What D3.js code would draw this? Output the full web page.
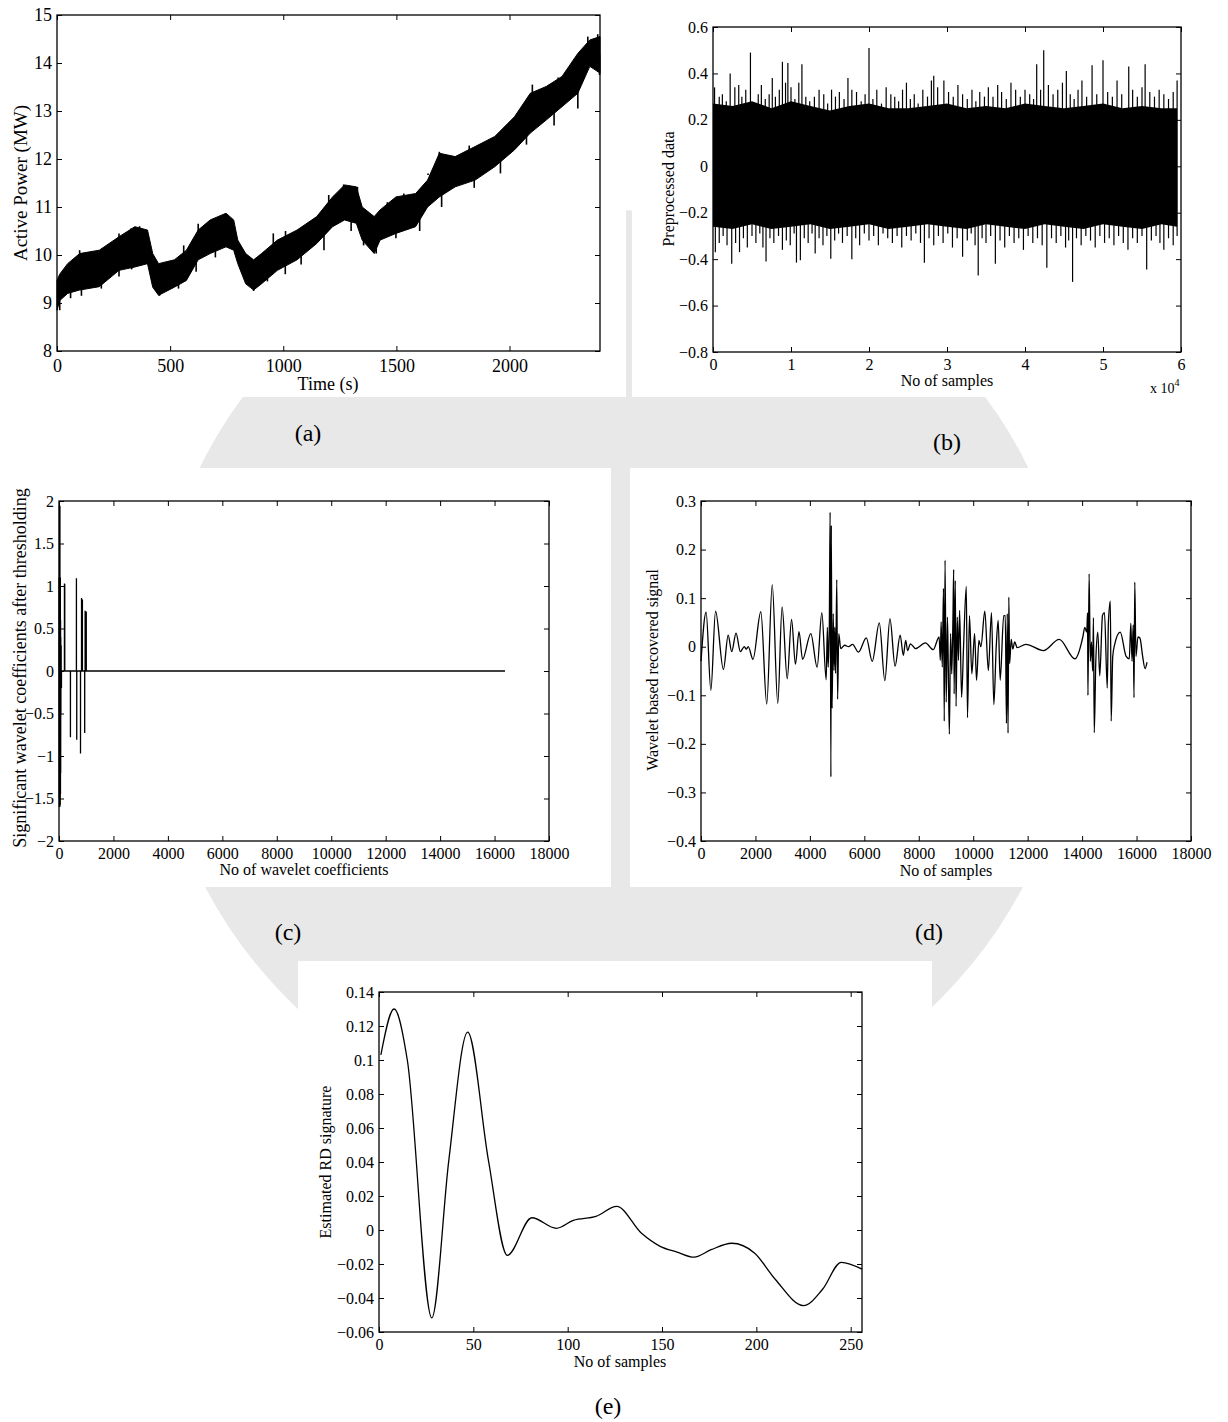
<!DOCTYPE html>
<html>
<head>
<meta charset="utf-8">
<script src="https://cdn.jsdelivr.net/npm/d3@7"></script>
<style>
body { margin: 0; background: #fff; }
svg text { font-family: "Liberation Serif", "Times New Roman", serif; fill: #000; }
</style>
</head>
<body>
<svg id="fig" width="1228" height="1422"></svg>
<script>
// (a) active power band (upper / lower edge of the black trace)
var powerT  = [0, 12, 47, 100, 187, 274, 344, 400, 423, 449, 519, 572, 624, 677, 747, 781, 799, 834, 869, 904, 974, 1061, 1148, 1218, 1271, 1323, 1349, 1402, 1428, 1498, 1585, 1638, 1690, 1760, 1848, 1935, 2022, 2092, 2162, 2232, 2302, 2355, 2400];
var powerHi = [9.47, 9.6, 9.82, 10.03, 10.1, 10.38, 10.59, 10.52, 10.03, 9.82, 9.9, 10.1, 10.52, 10.73, 10.87, 10.73, 10.31, 10.03, 9.9, 10.03, 10.31, 10.52, 10.8, 11.21, 11.46, 11.42, 11.0, 10.8, 10.94, 11.21, 11.28, 11.56, 12.12, 12.05, 12.26, 12.47, 12.88, 13.37, 13.51, 13.72, 14.2, 14.48, 14.55];
var powerLo = [8.85, 9.05, 9.2, 9.27, 9.34, 9.68, 9.75, 9.82, 9.33, 9.16, 9.33, 9.47, 9.9, 10.03, 10.17, 10.1, 9.82, 9.4, 9.27, 9.4, 9.68, 9.9, 10.24, 10.59, 10.73, 10.66, 10.31, 10.03, 10.31, 10.45, 10.59, 11.0, 11.21, 11.42, 11.56, 11.84, 12.19, 12.54, 12.81, 13.09, 13.37, 13.93, 13.79];
// single peaks standing out of the band
var powerUpT = [100, 150, 201, 240, 274, 327, 365, 560, 624, 703, 746, 956, 1010, 1079, 1201, 1267, 1328, 1460, 1533, 1640, 1690, 1822, 1900, 1970, 2040, 2101, 2215, 2290, 2346, 2390];
var powerUpV = [10.1, 10.05, 10.13, 10.2, 10.45, 10.55, 10.6, 10.2, 10.65, 10.75, 10.85, 10.45, 10.5, 10.55, 11.25, 11.47, 11.42, 11.1, 11.28, 11.7, 12.15, 12.28, 12.35, 12.55, 12.8, 13.55, 13.7, 14.05, 14.55, 14.6];
var powerDnT = [12, 60, 108, 196, 274, 330, 453, 537, 615, 700, 869, 930, 1009, 1079, 1180, 1300, 1355, 1411, 1498, 1603, 1700, 1844, 1960, 2075, 2197, 2302, 2398];
var powerDnV = [8.85, 9.1, 9.15, 9.3, 9.55, 9.7, 9.15, 9.3, 9.65, 9.95, 9.25, 9.45, 9.6, 9.8, 10.1, 10.5, 10.2, 10.03, 10.35, 10.5, 11.0, 11.4, 11.7, 12.3, 12.7, 13.05, 13.75];

// (b) preprocessed data: dense core + visible spikes (x in units of 10^4 samples)
var coreX  = [0, 0.25, 0.5, 0.75, 1, 1.25, 1.5, 1.75, 2, 2.25, 2.5, 2.75, 3, 3.25, 3.5, 3.75, 4, 4.25, 4.5, 4.75, 5, 5.25, 5.5, 5.75, 5.95];
var coreHi = [0.27, 0.26, 0.28, 0.25, 0.28, 0.26, 0.24, 0.26, 0.27, 0.25, 0.25, 0.26, 0.27, 0.25, 0.26, 0.25, 0.27, 0.26, 0.25, 0.26, 0.27, 0.25, 0.26, 0.25, 0.25];
var coreLo = [-0.26, -0.27, -0.25, -0.27, -0.26, -0.25, -0.27, -0.26, -0.25, -0.27, -0.26, -0.25, -0.26, -0.27, -0.25, -0.26, -0.27, -0.25, -0.26, -0.27, -0.25, -0.26, -0.27, -0.25, -0.26];
var upX = [0.02, 0.08, 0.12, 0.17, 0.22, 0.28, 0.33, 0.37, 0.42, 0.48, 0.53, 0.58, 0.62, 0.67, 0.72, 0.76, 0.80, 0.85, 0.89, 0.93, 0.96, 1.0, 1.05, 1.10, 1.14, 1.19, 1.24, 1.30, 1.36, 1.42, 1.47, 1.52, 1.57, 1.62, 1.68, 1.73, 1.78, 1.84, 1.90, 1.95, 2.00, 2.05, 2.10, 2.16, 2.22, 2.28, 2.33, 2.38, 2.43, 2.48, 2.53, 2.58, 2.63, 2.69, 2.75, 2.80, 2.83, 2.88, 2.96, 3.02, 3.08, 3.14, 3.20, 3.26, 3.32, 3.37, 3.42, 3.48, 3.53, 3.59, 3.65, 3.70, 3.76, 3.82, 3.88, 3.94, 4.00, 4.06, 4.11, 4.15, 4.20, 4.24, 4.30, 4.36, 4.42, 4.48, 4.53, 4.58, 4.63, 4.68, 4.73, 4.79, 4.86, 4.92, 5.0, 5.06, 5.12, 5.18, 5.24, 5.33, 5.38, 5.44, 5.50, 5.54, 5.60, 5.66, 5.72, 5.78, 5.84, 5.90, 5.95];
var upV = [0.34, 0.30, 0.31, 0.28, 0.40, 0.34, 0.35, 0.30, 0.33, 0.49, 0.27, 0.31, 0.35, 0.29, 0.31, 0.38, 0.30, 0.33, 0.45, 0.36, 0.445, 0.34, 0.29, 0.36, 0.44, 0.30, 0.28, 0.30, 0.33, 0.31, 0.27, 0.33, 0.30, 0.32, 0.29, 0.38, 0.33, 0.32, 0.28, 0.31, 0.51, 0.29, 0.33, 0.27, 0.34, 0.31, 0.30, 0.28, 0.33, 0.36, 0.29, 0.31, 0.27, 0.33, 0.30, 0.37, 0.39, 0.34, 0.37, 0.32, 0.30, 0.35, 0.31, 0.29, 0.33, 0.28, 0.32, 0.30, 0.34, 0.30, 0.35, 0.32, 0.29, 0.36, 0.33, 0.30, 0.33, 0.31, 0.29, 0.44, 0.33, 0.50, 0.35, 0.31, 0.33, 0.36, 0.41, 0.31, 0.29, 0.33, 0.37, 0.30, 0.435, 0.31, 0.457, 0.32, 0.30, 0.37, 0.31, 0.43, 0.33, 0.30, 0.34, 0.44, 0.32, 0.30, 0.33, 0.31, 0.29, 0.32, 0.37];
var downX = [0.03, 0.08, 0.13, 0.18, 0.24, 0.29, 0.34, 0.39, 0.44, 0.50, 0.55, 0.60, 0.64, 0.68, 0.73, 0.78, 0.84, 0.89, 0.94, 0.99, 1.04, 1.07, 1.12, 1.17, 1.22, 1.27, 1.31, 1.36, 1.41, 1.46, 1.51, 1.56, 1.61, 1.66, 1.72, 1.78, 1.83, 1.88, 1.94, 2.00, 2.06, 2.12, 2.18, 2.24, 2.30, 2.36, 2.42, 2.48, 2.54, 2.60, 2.66, 2.71, 2.77, 2.83, 2.89, 2.95, 3.01, 3.07, 3.13, 3.20, 3.26, 3.31, 3.36, 3.40, 3.45, 3.50, 3.56, 3.62, 3.68, 3.74, 3.80, 3.86, 3.92, 3.98, 4.04, 4.10, 4.16, 4.22, 4.28, 4.34, 4.40, 4.46, 4.52, 4.56, 4.61, 4.66, 4.72, 4.78, 4.84, 4.90, 4.96, 5.02, 5.08, 5.14, 5.20, 5.26, 5.32, 5.38, 5.44, 5.50, 5.56, 5.62, 5.68, 5.73, 5.78, 5.84, 5.90, 5.95];
var downV = [-0.37, -0.33, -0.30, -0.34, -0.42, -0.33, -0.37, -0.31, -0.35, -0.30, -0.33, -0.29, -0.35, -0.41, -0.31, -0.33, -0.30, -0.36, -0.32, -0.34, -0.29, -0.415, -0.405, -0.31, -0.33, -0.29, -0.376, -0.31, -0.34, -0.30, -0.398, -0.32, -0.29, -0.33, -0.30, -0.40, -0.31, -0.34, -0.29, -0.32, -0.30, -0.34, -0.29, -0.31, -0.33, -0.30, -0.35, -0.30, -0.32, -0.29, -0.33, -0.415, -0.31, -0.34, -0.30, -0.33, -0.29, -0.35, -0.31, -0.39, -0.32, -0.29, -0.34, -0.47, -0.31, -0.33, -0.30, -0.42, -0.32, -0.35, -0.30, -0.33, -0.31, -0.36, -0.30, -0.33, -0.31, -0.34, -0.437, -0.31, -0.33, -0.30, -0.35, -0.32, -0.498, -0.31, -0.34, -0.30, -0.32, -0.35, -0.30, -0.33, -0.31, -0.34, -0.30, -0.33, -0.36, -0.31, -0.33, -0.30, -0.445, -0.32, -0.30, -0.33, -0.36, -0.31, -0.34, -0.30];

// (c) significant wavelet coefficients (index, value)
var coefIdx = [2, 6, 10, 14, 18, 22, 26, 30, 34, 38, 42, 46, 50, 54, 58, 62, 66, 70, 80, 90, 200, 212, 420, 640, 652, 790, 828, 860, 944, 960, 1002];
var coefVal = [1.1, -1.5, 0.9, -1.6, 1.95, -1.55, 1.2, -1.6, 1.94, -1.3, 0.85, -1.58, 1.1, -1.45, 0.6, -1.2, 0.4, -0.5, 0.3, -0.2, 1.03, 1.02, -0.78, 1.09, -0.81, -0.97, 0.86, 0.84, -0.73, 0.71, 0.70];
var coefLen = 16384;

// (d) wavelet based recovered signal, turning points
var recS = [0, 188, 362, 535, 824, 998, 1128, 1287, 1446, 1591, 1663, 1735, 1909, 2198, 2415, 2617, 2820, 2979, 3167, 3326, 3470, 3600, 3731, 4034, 4266, 4439, 4598, 4642, 4671, 4714, 4743, 4772, 4786, 4815, 4858, 4887, 4916, 4945, 4988, 5018, 5061, 5133, 5278, 5422, 5567, 5784, 6073, 6290, 6550, 6753, 6941, 7129, 7317, 7432, 7519, 7591, 7692, 7880, 8242, 8531, 8748, 8792, 8821, 8864, 8907, 8936, 8965, 9008, 9052, 9081, 9124, 9168, 9211, 9254, 9283, 9298, 9341, 9370, 9413, 9457, 9500, 9573, 9645, 9746, 9789, 9862, 9949, 10050, 10122, 10209, 10281, 10426, 10556, 10671, 10758, 10845, 10917, 10990, 11120, 11178, 11221, 11250, 11279, 11308, 11337, 11395, 11453, 11525, 11612, 11930, 12580, 13159, 13737, 14026, 14098, 14171, 14200, 14214, 14258, 14301, 14344, 14388, 14417, 14446, 14503, 14576, 14648, 14749, 14822, 14923, 14966, 15038, 15067, 15125, 15197, 15400, 15617, 15733, 15790, 15834, 15877, 15906, 15935, 15978, 16051, 16123, 16224, 16311, 16384];
var recV = [-0.03, 0.071, -0.090, 0.073, -0.047, 0.024, -0.010, 0.028, -0.010, 0.0, -0.005, 0.0, -0.026, 0.072, -0.118, 0.128, -0.117, 0.082, -0.066, 0.056, -0.036, 0.031, -0.026, 0.027, -0.042, 0.070, -0.068, 0.040, -0.042, 0.047, 0.277, -0.268, 0.25, -0.127, 0.068, -0.049, 0.040, -0.055, 0.138, -0.108, 0.027, -0.004, 0.003, 0.0, 0.005, -0.011, 0.018, -0.030, 0.049, -0.070, 0.058, -0.040, 0.024, -0.018, 0.013, -0.008, 0.006, -0.004, 0.008, -0.006, 0.020, -0.028, 0.051, -0.042, 0.120, -0.153, 0.178, -0.114, 0.061, -0.028, -0.180, 0.027, -0.056, 0.054, 0.159, -0.097, 0.136, -0.123, 0.061, -0.028, 0.075, -0.104, 0.0, 0.124, -0.146, 0.064, -0.056, 0.027, -0.069, 0.013, 0.0, 0.073, -0.049, 0.070, -0.119, 0.0, 0.054, -0.069, 0.064, 0.064, -0.158, 0.068, -0.178, 0.102, -0.035, 0.015, -0.005, 0.010, -0.002, 0.005, -0.008, 0.015, -0.025, 0.02, 0.040, 0.030, 0.07, -0.10, 0.150, -0.03, 0.01, -0.05, 0.06, -0.177, -0.03, 0.03, -0.06, 0.065, 0.07, -0.085, 0.05, 0.094, -0.153, -0.02, 0.005, 0.030, -0.02, -0.025, 0.048, -0.03, 0.045, -0.105, 0.133, -0.02, 0.02, 0.018, -0.02, -0.045, -0.032];

// (e) estimated RD signature
var rdS = [1, 8, 15, 28, 37, 47, 58, 68, 81, 94, 103, 115, 126, 139, 149, 158, 167, 176, 187, 199, 210, 225, 235, 245, 256];
var rdV = [0.103, 0.130, 0.100, -0.0517, 0.041, 0.1164, 0.041, -0.0149, 0.0072, 0.001, 0.0057, 0.008, 0.0139, -0.0018, -0.0096, -0.013, -0.016, -0.0116, -0.0078, -0.0135, -0.029, -0.0445, -0.035, -0.019, -0.023];

// tick values
var ticksA_x = [0, 500, 1000, 1500, 2000];
var ticksA_y = [8, 9, 10, 11, 12, 13, 14, 15];
var ticksB_x = [0, 1, 2, 3, 4, 5, 6];
var ticksB_y = [-0.8, -0.6, -0.4, -0.2, 0, 0.2, 0.4, 0.6];
var ticksC_x = [0, 2000, 4000, 6000, 8000, 10000, 12000, 14000, 16000, 18000];
var ticksC_y = [-2, -1.5, -1, -0.5, 0, 0.5, 1, 1.5, 2];
var ticksD_y = [-0.4, -0.3, -0.2, -0.1, 0, 0.1, 0.2, 0.3];
var ticksE_x = [0, 50, 100, 150, 200, 250];
var ticksE_y = [-0.06, -0.04, -0.02, 0, 0.02, 0.04, 0.06, 0.08, 0.1, 0.12, 0.14];

var svg = d3.select("#fig");
var fmt = d3.format("");

// faint watermark behind the figure
svg.append("circle").attr("cx", 614).attr("cy", 672).attr("r", 462).attr("fill", "#e8e8e8");

// white image boxes
[[0, 0, 626, 397], [632, 0, 596, 397], [0, 468, 611, 419], [630, 468, 598, 419], [298, 961, 634, 461]].forEach(function(b) {
  svg.append("rect").attr("x", b[0]).attr("y", b[1]).attr("width", b[2]).attr("height", b[3]).attr("fill", "#fff");
});

function makePanel(p) {
  var fs = p.fs || 16;
  var x = d3.scaleLinear().domain(p.xd).range([p.L, p.R]);
  var y = d3.scaleLinear().domain(p.yd).range([p.B, p.T]);
  var g = svg.append("g");
  var plot = g.append("g");
  var axes = g.append("g");

  var style = function(sel) {
    sel.attr("font-size", fs).attr("font-family", null);
    sel.selectAll("line").attr("stroke", "#000").attr("stroke-width", 1);
    sel.select(".domain").remove();
  };
  axes.append("g").attr("transform", "translate(0," + p.B + ")")
    .call(d3.axisBottom(x).tickValues(p.xt).tickSize(-5).tickSizeOuter(0).tickPadding(p.xpad).tickFormat(fmt)).call(style);
  axes.append("g").attr("transform", "translate(0," + p.T + ")")
    .call(d3.axisTop(x).tickValues(p.xt).tickSize(-5).tickSizeOuter(0).tickFormat("")).call(style);
  axes.append("g").attr("transform", "translate(" + p.L + ",0)")
    .call(d3.axisLeft(y).tickValues(p.yt).tickSize(-5).tickSizeOuter(0).tickPadding(5).tickFormat(fmt)).call(style);
  axes.append("g").attr("transform", "translate(" + p.R + ",0)")
    .call(d3.axisRight(y).tickValues(p.yt).tickSize(-5).tickSizeOuter(0).tickFormat("")).call(style);
  axes.append("rect").attr("x", p.L).attr("y", p.T).attr("width", p.R - p.L).attr("height", p.B - p.T)
    .attr("fill", "none").attr("stroke", "#000").attr("stroke-width", 1.3);

  g.append("text").attr("x", p.xtx).attr("y", p.xty).attr("text-anchor", "middle").attr("font-size", fs).text(p.xtitle);
  g.append("text").attr("transform", "translate(" + p.ytx + "," + p.yty + ") rotate(-90)")
    .attr("text-anchor", "middle").attr("font-size", p.yfs || fs).text(p.ytitle);
  g.append("text").attr("x", p.lx).attr("y", p.ly).attr("text-anchor", "middle").attr("font-size", 24).text(p.label);
  return {x: x, y: y, plot: plot, g: g};
}

function spikes(panel, xs, vs, base, w) {
  panel.plot.append("g").selectAll("line").data(d3.range(xs.length)).enter().append("line")
    .attr("x1", function(i) { return panel.x(xs[i]); }).attr("x2", function(i) { return panel.x(xs[i]); })
    .attr("y1", function(i) { return panel.y(base(xs[i])); }).attr("y2", function(i) { return panel.y(vs[i]); })
    .attr("stroke", "#000").attr("stroke-width", w);
}

// (a)
var pa = makePanel({L: 57, R: 600, T: 15, B: 351, xd: [0, 2400], yd: [8, 15], xt: ticksA_x, yt: ticksA_y, xpad: 8, fs: 18, yfs: 19,
  xtitle: "Time (s)", xtx: 328, xty: 390, ytitle: "Active Power (MW)", ytx: 27, yty: 183, label: "(a)", lx: 308, ly: 441});
pa.plot.append("path")
  .datum(d3.range(powerT.length))
  .attr("fill", "#000").attr("stroke", "#000").attr("stroke-width", 1)
  .attr("d", d3.area().x(function(i) { return pa.x(powerT[i]); })
    .y0(function(i) { return pa.y(powerLo[i]); }).y1(function(i) { return pa.y(powerHi[i]); }));
var midA = function(t) {
  var i = Math.max(1, d3.bisectLeft(powerT, t));
  return (powerHi[i] + powerLo[i]) / 2;
};
spikes(pa, powerUpT, powerUpV, midA, 1.6);
spikes(pa, powerDnT, powerDnV, midA, 1.6);

// (b)
var pb = makePanel({L: 713, R: 1181, T: 27, B: 352, xd: [0, 6], yd: [-0.8, 0.6], xt: ticksB_x, yt: ticksB_y, xpad: 7,
  xtitle: "No of samples", xtx: 947, xty: 386, ytitle: "Preprocessed data", ytx: 674, yty: 189, label: "(b)", lx: 947, ly: 450});
pb.plot.append("path")
  .datum(d3.range(coreX.length))
  .attr("fill", "#000")
  .attr("d", d3.area().x(function(i) { return pb.x(coreX[i]); })
    .y0(function(i) { return pb.y(coreLo[i]); }).y1(function(i) { return pb.y(coreHi[i]); }));
spikes(pb, upX, upV, function() { return 0; }, 1.2);
spikes(pb, downX, downV, function() { return 0; }, 1.2);
var xexp = pb.g.append("text").attr("x", 1150).attr("y", 393).attr("font-size", 14);
xexp.append("tspan").text("x 10");
xexp.append("tspan").attr("dy", -7).attr("font-size", 10).text("4");

// (c)
var pc = makePanel({L: 59, R: 549, T: 501, B: 841, xd: [0, 18000], yd: [-2, 2], xt: ticksC_x, yt: ticksC_y, xpad: 7, yfs: 18,
  xtitle: "No of wavelet coefficients", xtx: 304, xty: 875, ytitle: "Significant wavelet coefficients after thresholding",
  ytx: 26, yty: 668, label: "(c)", lx: 288, ly: 940});
var coefPts = [[0, 0]];
coefIdx.forEach(function(k, j) {
  var prev = j > 0 ? coefIdx[j - 1] : -10;
  var next = j < coefIdx.length - 1 ? coefIdx[j + 1] : coefLen;
  if (k - prev > 5) coefPts.push([k - 1, 0]);
  coefPts.push([k, coefVal[j]]);
  if (next - k > 5) coefPts.push([k + 1, 0]);
});
coefPts.push([coefLen, 0]);
pc.plot.append("path").datum(coefPts)
  .attr("fill", "none").attr("stroke", "#000").attr("stroke-width", 1.3)
  .attr("d", d3.line().x(function(d) { return pc.x(d[0]); }).y(function(d) { return pc.y(d[1]); }));

// (d)
var pd = makePanel({L: 701, R: 1191, T: 501, B: 841, xd: [0, 18000], yd: [-0.4, 0.3], xt: ticksC_x, yt: ticksD_y, xpad: 7,
  xtitle: "No of samples", xtx: 946, xty: 876, ytitle: "Wavelet based recovered signal", ytx: 658, yty: 670,
  label: "(d)", lx: 929, ly: 940});
pd.plot.append("path").datum(d3.range(recS.length))
  .attr("fill", "none").attr("stroke", "#000").attr("stroke-width", 1.3)
  .attr("d", d3.line().curve(d3.curveMonotoneX)
    .x(function(i) { return pd.x(recS[i]); }).y(function(i) { return pd.y(recV[i]); }));

// (e)
var pe = makePanel({L: 379, R: 862, T: 992, B: 1332, xd: [0, 256], yd: [-0.06, 0.14], xt: ticksE_x, yt: ticksE_y, xpad: 7,
  xtitle: "No of samples", xtx: 620, xty: 1367, ytitle: "Estimated RD signature", ytx: 331, yty: 1162,
  label: "(e)", lx: 608, ly: 1414});
pe.plot.append("path").datum(d3.range(rdS.length))
  .attr("fill", "none").attr("stroke", "#000").attr("stroke-width", 1.3)
  .attr("d", d3.line().curve(d3.curveMonotoneX)
    .x(function(i) { return pe.x(rdS[i]); }).y(function(i) { return pe.y(rdV[i]); }));
</script>
</body>
</html>
